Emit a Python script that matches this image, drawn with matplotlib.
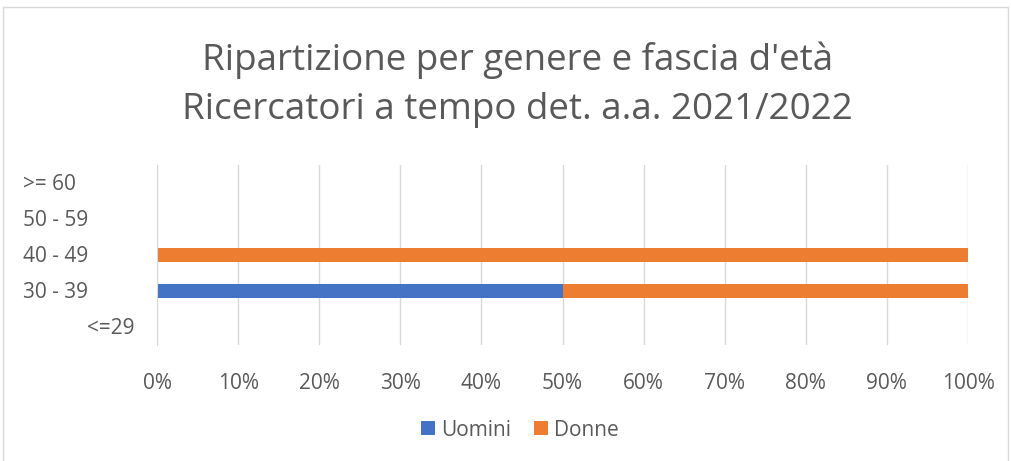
import matplotlib
matplotlib.use("Agg")
import matplotlib.pyplot as plt
from matplotlib.patches import Rectangle
import matplotlib.transforms as mtransforms

categories = ["<=29", "30 - 39", "40 - 49", "50 - 59", ">= 60"]
uomini = [0, 50, 0, 0, 0]
donne = [0, 50, 100, 0, 0]
xticks = [0, 10, 20, 30, 40, 50, 60, 70, 80, 90, 100]
title = "Ripartizione per genere e fascia d'età\nRicercatori a tempo det. a.a. 2021/2022"

plt.rcParams['font.family'] = ['Open Sans', 'DejaVu Sans']
TXT = "#595959"
W, H = 1011, 461
fig = plt.figure(figsize=(W / 100, H / 100), dpi=100)
fig.patch.set_facecolor("white")

# chart border
fig.patches.append(Rectangle((3 / W, -0.05), 1005 / W, (H - 7) / H + 0.05,
                             transform=fig.transFigure, fill=False,
                             edgecolor="#D9D9D9", linewidth=1))

ax = fig.add_axes([157 / W, (H - 345) / H, (968 - 157) / W, 180 / H])
y = list(range(len(categories)))
ax.barh(y, uomini, height=0.4, color="#4472C4", label="Uomini", zorder=3)
ax.barh(y, donne, left=uomini, height=0.4, color="#ED7D31", label="Donne", zorder=3)

ax.set_xlim(0, 100)
ax.set_ylim(-0.5, len(categories) - 0.5)
ax.set_xticks(xticks)
ax.set_xticklabels([f"{v}%" for v in xticks], fontsize=15, color=TXT)
ax.tick_params(axis="x", length=0, pad=20)
ax.set_yticks([])
ax.grid(axis="x", color="#D9D9D9", linewidth=1, zorder=0)
for s in ["top", "right", "bottom"]:
    ax.spines[s].set_visible(False)
ax.spines["left"].set_color("#D9D9D9")
ax.spines["left"].set_zorder(4)

# category labels (left aligned as in the reference)
trans = mtransforms.blended_transform_factory(fig.transFigure, ax.transData)
label_x = {"<=29": 87 / W}
for yi, c in zip(y, categories):
    ax.text(label_x.get(c, 23 / W), yi - 0.04, c, transform=trans, ha="left",
            va="center", fontsize=15, color=TXT)

fig.text(0.512, (H - 85) / H, title, ha="center", va="center",
         fontsize=26.5, color=TXT, linespacing=1.48)

leg = fig.legend(loc="center", bbox_to_anchor=(520 / W, (H - 430) / H),
                 ncol=2, frameon=False, fontsize=15, handlelength=0.65,
                 handleheight=0.65, handletextpad=0.3, columnspacing=1.1)
for t in leg.get_texts():
    t.set_color(TXT)

fig.savefig("out.png", dpi=100)
